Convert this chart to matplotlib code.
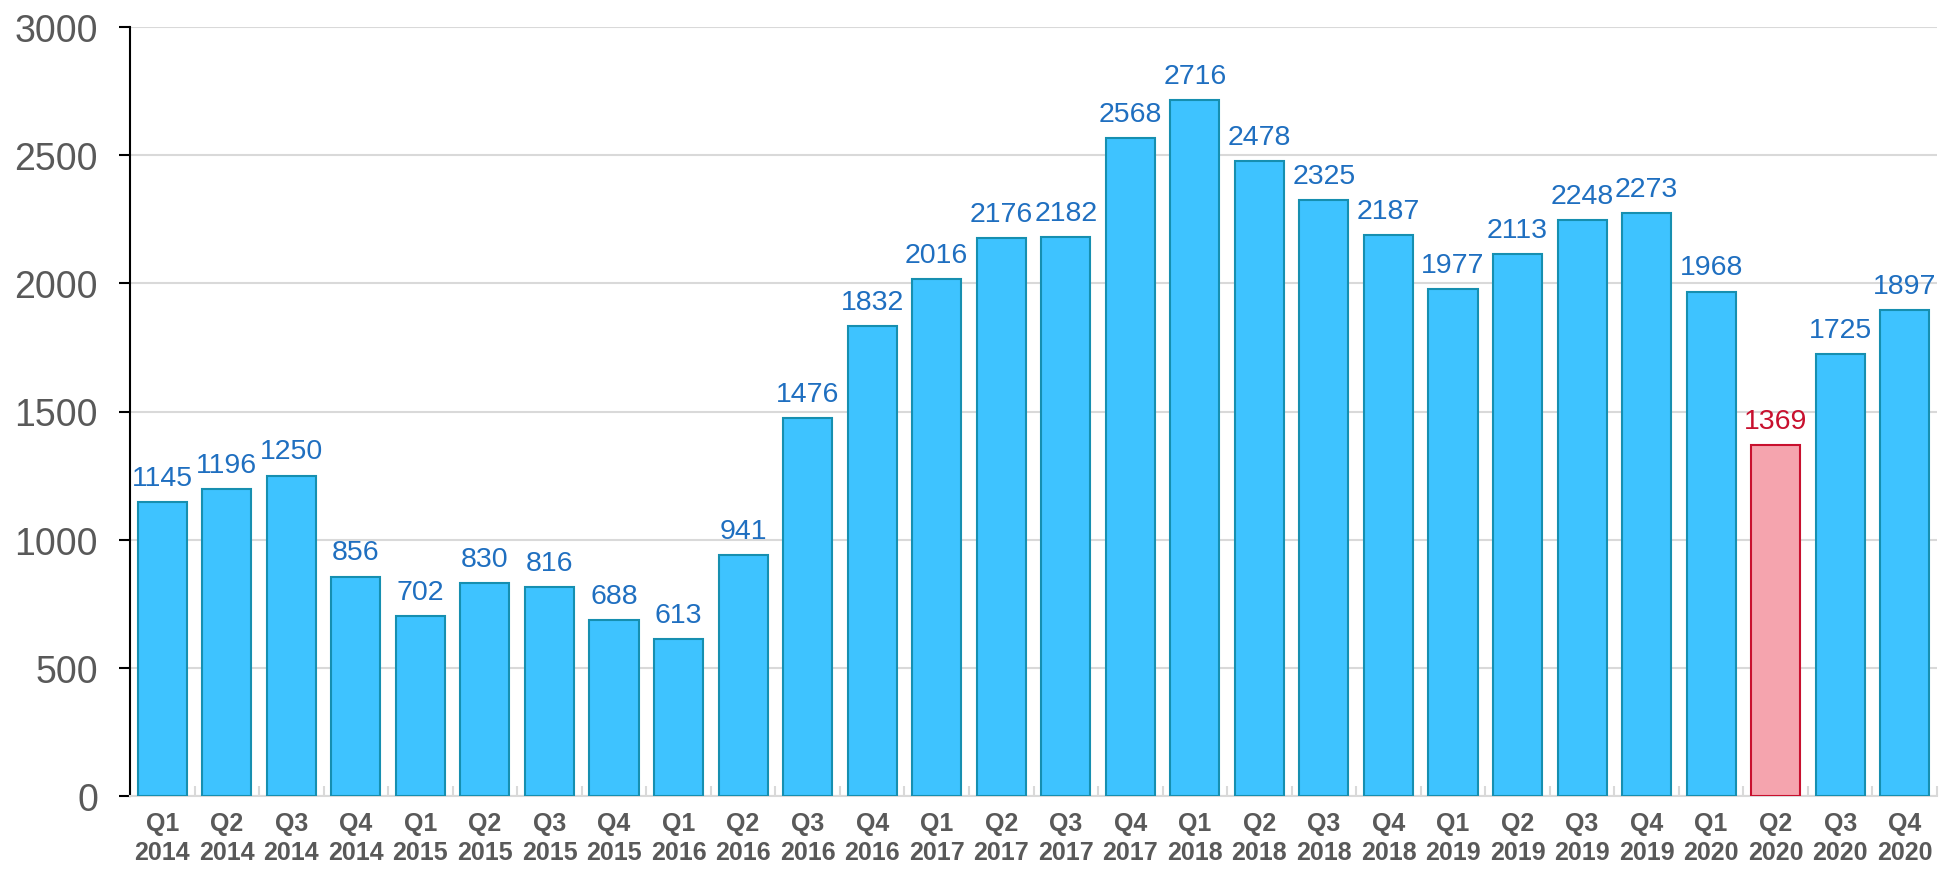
import matplotlib
matplotlib.use('Agg')
import numpy as np
import matplotlib.pyplot as plt

plt.rcParams['font.family'] = ['Liberation Sans', 'DejaVu Sans']

quarters = ['Q1', 'Q2', 'Q3', 'Q4'] * 7
years = [str(y) for y in range(2014, 2021) for _ in range(4)]
values = [1145, 1196, 1250, 856, 702, 830, 816, 688, 613, 941, 1476, 1832,
          2016, 2176, 2182, 2568, 2716, 2478, 2325, 2187, 1977, 2113, 2248, 2273,
          1968, 1369, 1725, 1897]
highlight = 25  # Q2 2020

fig = plt.figure(figsize=(19.44, 8.7), dpi=100)
ax = fig.add_axes([130 / 1944, 1 - 797 / 870, 1807 / 1944, 769 / 870])

x = np.arange(len(values))
face = ['#3EC3FF'] * len(values)
edge = ['#168FB0'] * len(values)
face[highlight] = '#F5A4AE'
edge[highlight] = '#C8102E'
ax.bar(x, values, width=0.76, color=face, edgecolor=edge, linewidth=1.5, zorder=3)

for i, v in enumerate(values):
    c = '#C8102E' if i == highlight else '#1F6FC0'
    ax.annotate(str(v), (i, v), xytext=(0, 8), textcoords='offset points',
                ha='center', va='bottom', fontsize=20.5, color=c, zorder=4)

ax.set_xlim(-0.5, len(values) - 0.5)
ax.set_ylim(0, 3000)
ax.set_yticks(range(0, 3001, 500))
ax.yaxis.grid(True, color='#D9D9D9', linewidth=1.5, zorder=0)
ax.tick_params(axis='y', labelsize=27, labelcolor='#595959', length=8, width=1.5,
               color='black', pad=15)

ax.set_xticks(x)
ax.set_xticklabels([q + '\n' + y for q, y in zip(quarters, years)],
                   fontsize=18, fontweight='bold', color='#595959', linespacing=1.25)
ax.tick_params(axis='x', length=0, pad=11)
ax.set_xticks(np.arange(-0.5, len(values), 1), minor=True)
ax.tick_params(axis='x', which='minor', direction='in', length=7, width=1.5, color='#D9D9D9')

for s in ['top', 'right']:
    ax.spines[s].set_visible(False)
ax.spines['left'].set_color('black')
ax.spines['left'].set_linewidth(1.5)
ax.spines['bottom'].set_color('#D9D9D9')
ax.spines['bottom'].set_linewidth(1.5)

fig.savefig('out.png', dpi=100)
